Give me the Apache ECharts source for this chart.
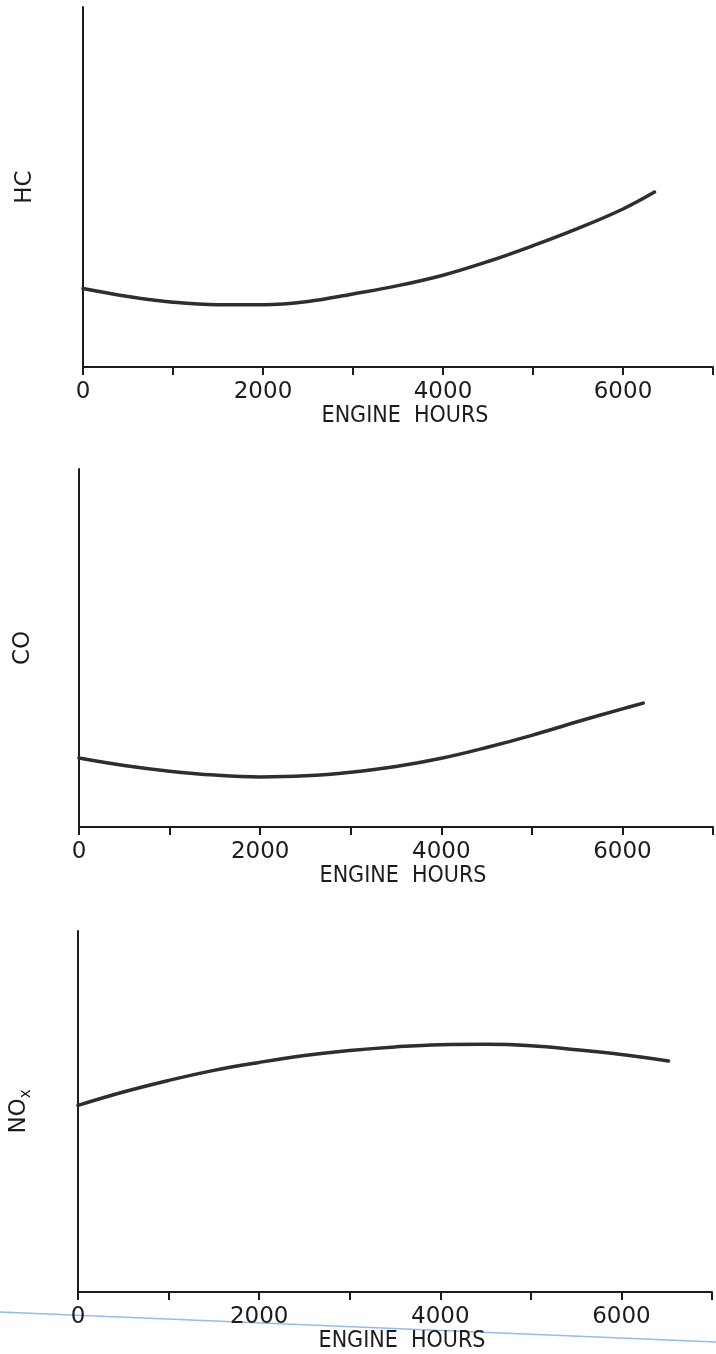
<!DOCTYPE html>
<html>
<head>
<meta charset="utf-8">
<script src="https://cdn.jsdelivr.net/npm/echarts@6/dist/echarts.min.js"></script>
<style>
html,body{margin:0;padding:0;background:#ffffff;}
#chart{width:716px;height:1354px;}
</style>
</head>
<body>
<div id="chart"></div>
<script>
// ---- data (y scale is arbitrary, 0-100) ----
const hcHours  = [0, 500, 1000, 1500, 2000, 2500, 3000, 3500, 4000, 4500, 5000, 5500, 6000, 6350];
const hcValues = [21.8, 19.6, 18.0, 17.3, 17.3, 18.2, 20.3, 22.6, 25.5, 29.3, 33.7, 38.5, 43.9, 48.6];

const coHours  = [0, 500, 1000, 1500, 2000, 2500, 3000, 3500, 4000, 4500, 5000, 5500, 6000, 6230];
const coValues = [19.3, 17.2, 15.6, 14.5, 14.0, 14.3, 15.3, 16.9, 19.2, 22.2, 25.6, 29.4, 33.0, 34.6];

const noxHours  = [0, 500, 1000, 1500, 2000, 2500, 3000, 3500, 4000, 4500, 5000, 5500, 6000, 6520];
const noxValues = [51.7, 55.4, 58.6, 61.4, 63.6, 65.5, 66.9, 67.9, 68.5, 68.6, 68.2, 67.1, 65.8, 64.0];

const xTickLabels = ['0', '2000', '4000', '6000'];
const xAxisTitle = 'ENGINE  HOURS';
const panelNames = ['HC', 'CO', 'NO{s|x}'];

// ---- styling ----
const INK = '#1c1c1c';
const CURVE = '#2e2e2e';
const NUM_FONT = "'DejaVu Sans', sans-serif";
const TITLE_FONT = "'DejaVu Sans Condensed', 'DejaVu Sans', sans-serif";

const grids = [
  { left: 83, top: 7,   width: 631, height: 360 },
  { left: 79, top: 469, width: 635, height: 358 },
  { left: 75, top: 931, width: 637, height: 361 }
];
const yNameGaps = [46, 44, 44];

function pairs(xs, ys) { return xs.map((x, i) => [x, ys[i]]); }

const xAxes = grids.map((g, i) => ({
  type: 'value', gridIndex: i, min: 0, max: 7000, interval: 1000,
  axisLine: { show: true, onZero: false, lineStyle: { color: INK, width: 2 } },
  axisTick: { show: true, inside: false, length: 8, lineStyle: { color: INK, width: 2 } },
  axisLabel: {
    show: true, margin: 14, color: INK, fontSize: 23, fontFamily: NUM_FONT,
    formatter: v => xTickLabels.includes(String(v)) ? String(v) : ''
  },
  splitLine: { show: false },
  name: xAxisTitle, nameLocation: 'middle', nameGap: 36,
  nameTextStyle: { color: INK, fontSize: 23, fontFamily: TITLE_FONT, padding: [0, 0, 0, 14] }
}));

const yAxes = grids.map((g, i) => ({
  type: 'value', gridIndex: i, min: 0, max: 100,
  axisLine: { show: true, onZero: false, lineStyle: { color: INK, width: 2 } },
  axisTick: { show: false }, axisLabel: { show: false }, splitLine: { show: false },
  name: panelNames[i], nameLocation: 'middle', nameRotate: 90, nameGap: yNameGaps[i],
  nameTextStyle: {
    color: INK, fontSize: 23, fontFamily: NUM_FONT,
    rich: { s: { fontSize: 15, fontFamily: NUM_FONT, color: INK, padding: [14, 0, 0, 0] } }
  }
}));

const seriesData = [pairs(hcHours, hcValues), pairs(coHours, coValues), pairs(noxHours, noxValues)];
const series = seriesData.map((d, i) => ({
  type: 'line', xAxisIndex: i, yAxisIndex: i, data: d,
  smooth: 0.4, showSymbol: false, symbol: 'none',
  lineStyle: { color: CURVE, width: 3.5, cap: 'round' },
  silent: true, animation: false
}));

const chart = echarts.init(document.getElementById('chart'), null, { renderer: 'canvas' });
chart.setOption({
  backgroundColor: '#ffffff',
  animation: false,
  grid: grids.map(g => Object.assign({ containLabel: false }, g)),
  xAxis: xAxes,
  yAxis: yAxes,
  series: series,
  graphic: [{
    type: 'line', silent: true, z: 0,
    shape: { x1: 0, y1: 1312, x2: 716, y2: 1342 },
    style: { stroke: '#7fb0e6', lineWidth: 1.5, opacity: 0.85 }
  }]
});
</script>
</body>
</html>
